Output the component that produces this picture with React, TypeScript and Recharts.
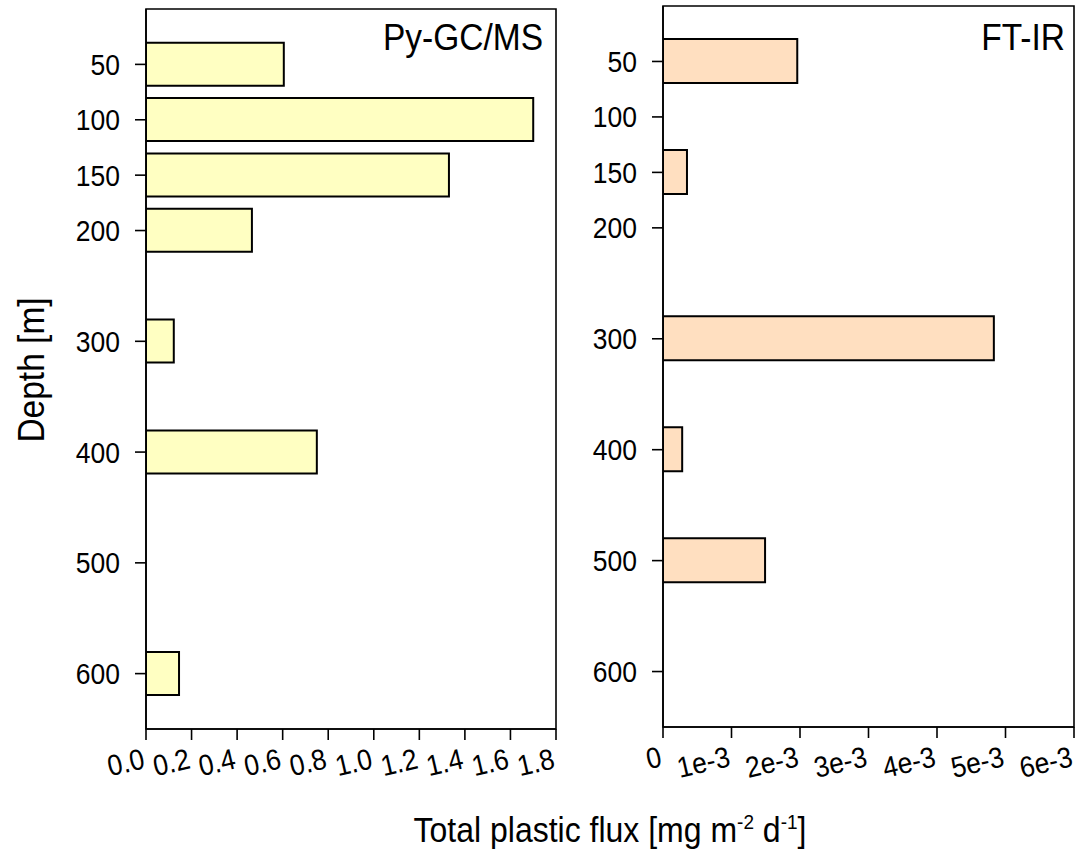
import React from "react";
import { BarChart, Bar, XAxis, YAxis, ReferenceArea } from "recharts";

const depths = [50, 100, 150, 200, 300, 400, 500, 600];
const depthTickLabels = ["50", "100", "150", "200", "300", "400", "500", "600"];
const pyValues: (number | null)[] = [0.605, 1.7, 1.33, 0.465, 0.122, 0.75, null, 0.145];
const ftirValues: (number | null)[] = [0.00196, null, 0.00035, null, 0.00483, 0.00028, 0.00149, null];
const pyTicks = [0, 0.2, 0.4, 0.6, 0.8, 1.0, 1.2, 1.4, 1.6, 1.8];
const pyTickLabels = ["0.0", "0.2", "0.4", "0.6", "0.8", "1.0", "1.2", "1.4", "1.6", "1.8"];
const ftirTicks = [0, 0.001, 0.002, 0.003, 0.004, 0.005, 0.006];
const ftirTickLabels = ["0", "1e-3", "2e-3", "3e-3", "4e-3", "5e-3", "6e-3"];
const depthDomain = [0, 650];

const FONT = '"Liberation Sans", Arial, Helvetica, sans-serif';
const STRETCH = 1.1;

const pyData = depths
  .map((d, i) => ({ depth: d, value: pyValues[i] }))
  .filter((r) => r.value !== null);
const ftirData = depths
  .map((d, i) => ({ depth: d, value: ftirValues[i] }))
  .filter((r) => r.value !== null);

const makeXTick = (ticks: number[], labels: string[]) => (props: any) => {
  const { x, y, payload } = props;
  const idx = ticks.findIndex((t) => Math.abs(t - payload.value) < 1e-9);
  const label = idx >= 0 ? labels[idx] : String(payload.value);
  const by = y + 19;
  return (
    <g transform={`translate(${x}, ${by}) rotate(-13) scale(1, ${STRETCH})`}>
      <text x={0} y={0} textAnchor="end" fontSize={26.5} fontFamily={FONT} fill="#000">
        {label}
      </text>
    </g>
  );
};

const makeYTick = () => (props: any) => {
  const { x, y, payload } = props;
  const idx = depths.indexOf(payload.value);
  const label = idx >= 0 ? depthTickLabels[idx] : String(payload.value);
  return (
    <g transform={`translate(${x}, ${y}) scale(1, ${STRETCH})`}>
      <text x={0} y={0} dy="0.36em" textAnchor="end" fontSize={26.5} fontFamily={FONT} fill="#000">
        {label}
      </text>
    </g>
  );
};

const makeTitle = (text: string, inset: number, base: number) => (props: any) => {
  const vb = props.viewBox || {};
  return (
    <g transform={`translate(${vb.x + vb.width - inset}, ${vb.y + base}) scale(1, ${STRETCH})`}>
      <text x={0} y={0} textAnchor="end" fontSize={33.5} fontFamily={FONT} fill="#000">
        {text}
      </text>
    </g>
  );
};

type PanelProps = {
  data: { depth: number; value: number | null }[];
  ticks: number[];
  labels: string[];
  fill: string;
  width: number;
  height: number;
  yAxisWidth: number;
  top: number;
  right: number;
  title: string;
  titleInset: number;
  titleBase: number;
  barSize: number;
};

function Panel(p: PanelProps) {
  const xMax = p.ticks[p.ticks.length - 1];
  return (
    <BarChart
      width={p.width}
      height={p.height}
      data={p.data}
      layout="vertical"
      margin={{ top: p.top, right: p.right, left: 0, bottom: 0 }}
      style={{ overflow: "visible" }}
    >
      <XAxis
        type="number"
        dataKey="value"
        domain={[0, xMax]}
        ticks={p.ticks}
        interval={0}
        height={71}
        tickSize={11}
        tickMargin={9}
        stroke="#000"
        tickLine={{ stroke: "#000", strokeWidth: 1.6 }}
        axisLine={{ stroke: "#000", strokeWidth: 1.6 }}
        tick={makeXTick(p.ticks, p.labels)}
        allowDataOverflow
      />
      <YAxis
        type="number"
        dataKey="depth"
        domain={depthDomain}
        ticks={depths}
        interval={0}
        width={p.yAxisWidth}
        tickSize={11}
        tickMargin={15}
        stroke="#000"
        tickLine={{ stroke: "#000", strokeWidth: 1.6 }}
        axisLine={{ stroke: "#000", strokeWidth: 1.6 }}
        tick={makeYTick()}
        allowDataOverflow
      />
      <ReferenceArea
        x1={0}
        x2={xMax}
        y1={depthDomain[0]}
        y2={depthDomain[1]}
        fill="none"
        fillOpacity={0}
        stroke="#000"
        strokeWidth={1.6}
        strokeOpacity={1}
        ifOverflow="extendDomain"
        label={makeTitle(p.title, p.titleInset, p.titleBase)}
      />
      <Bar
        dataKey="value"
        fill={p.fill}
        stroke="#000"
        strokeWidth={2}
        barSize={p.barSize}
        isAnimationActive={false}
      />
    </BarChart>
  );
}

export default function App() {
  return (
    <div
      style={{
        position: "absolute",
        left: 0,
        top: 0,
        width: 1079,
        height: 849,
        background: "#fff",
        fontFamily: FONT,
        overflow: "hidden",
      }}
    >
      <div style={{ position: "absolute", left: 0, top: 0 }}>
        <Panel
          data={pyData}
          ticks={pyTicks}
          labels={pyTickLabels}
          fill="#FFFFC2"
          width={560}
          height={800}
          yAxisWidth={146}
          top={9}
          right={4}
          title="Py-GC/MS"
          titleInset={13}
          titleBase={41}
          barSize={43}
        />
      </div>
      <div style={{ position: "absolute", left: 560, top: 0 }}>
        <Panel
          data={ftirData}
          ticks={ftirTicks}
          labels={ftirTickLabels}
          fill="#FFDFC0"
          width={519}
          height={798}
          yAxisWidth={103}
          top={6}
          right={5}
          title="FT-IR"
          titleInset={9}
          titleBase={44}
          barSize={44}
        />
      </div>
      <svg
        width={1079}
        height={849}
        style={{ position: "absolute", left: 0, top: 0, pointerEvents: "none" }}
      >
        <g transform={`translate(44, 370) rotate(-90) scale(1, ${STRETCH})`}>
          <text x={0} y={0} textAnchor="middle" fontSize={33.5} fontFamily={FONT} fill="#000">
            Depth [m]
          </text>
        </g>
        <g transform={`translate(610, 842) scale(1, ${STRETCH})`}>
          <text x={0} y={0} textAnchor="middle" fontSize={32} fontFamily={FONT} fill="#000">
            Total plastic flux [mg m
            <tspan fontSize={19} dy={-12}>-2</tspan>
            <tspan dy={12}> d</tspan>
            <tspan fontSize={19} dy={-12}>-1</tspan>
            <tspan dy={12}>]</tspan>
          </text>
        </g>
      </svg>
    </div>
  );
}
